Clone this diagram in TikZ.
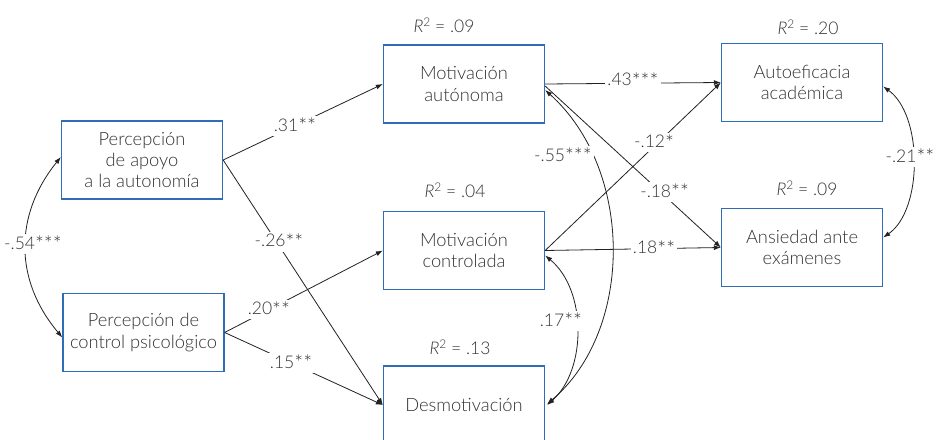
\documentclass[tikz,border=0pt]{standalone}
\usepackage{fontspec}
\setmainfont{Lato Light}[ItalicFont={Lato Light Italic}]
\usetikzlibrary{arrows.meta}
\definecolor{boxblue}{HTML}{2F6DB5}
\definecolor{txt}{HTML}{333333}
\definecolor{ln}{HTML}{222222}
\newcommand\sg{{\fontsize{21}{21}\selectfont\raisebox{-0.25ex}{*}}}
\newcommand\rsqtxt[1]{\textit{R}\raisebox{0.7ex}{\fontsize{12}{12}\selectfont 2} = #1}
\begin{document}
\begin{tikzpicture}[x=1pt,y=-1pt,
  box/.style={draw=boxblue,line width=1.3pt,minimum width=161pt,minimum height=78pt,align=center,text=txt,font=\fontsize{18.3}{21.3}\selectfont,inner sep=0pt},
  arr/.style={draw=ln,line width=0.8pt,-{Latex[length=7pt,width=5pt]}},
  darr/.style={draw=ln,line width=0.8pt,{Latex[length=7pt,width=5pt]}-{Latex[length=7pt,width=5pt]}},
  lab/.style={fill=white,text=txt,font=\fontsize{17.5}{19}\selectfont,inner sep=2pt},
  rsq/.style={text=txt,font=\fontsize{17.5}{19}\selectfont,inner sep=0pt}]
\useasboundingbox (0,0) rectangle (939,439);
\clip (0,0) rectangle (939,439);
\fill[white] (0,0) rectangle (939,439);
% boxes
\node[box] (apoyo) at (142,160) {Percepción\\de apoyo\\a la autonomía};
\node[box] (control) at (143.5,332.5) {Percepción de\\control psicológico};
\node[box] (auto) at (464,84) {Motivación\\autónoma};
\node[box] (contr) at (464,250.5) {Motivación\\controlada};
\node[box] (desm) at (464,405) {Desmotivación};
\node[box] (autoef) at (802,82.5) {Autoeficacia\\académica};
\node[box] (ansi) at (802,247.5) {Ansiedad ante\\exámenes};
% R2 labels
\node[rsq] (r1) at (444,25) {\rsqtxt{.09}};
\node[rsq] (r2) at (455,190) {\rsqtxt{.04}};
\node[rsq] (r3) at (460,347) {\rsqtxt{.13}};
\node[rsq] (r4) at (808,27) {\rsqtxt{.20}};
\node[rsq] (r5) at (807,188) {\rsqtxt{.09}};
% paths
\draw[arr] (apoyo.east) -- node[lab,pos=0.45] (l31) {.31\sg\sg} (auto.west);
\draw[arr] (apoyo.east) -- node[lab,pos=0.35,yshift=4pt] (l26) {-.26\sg\sg} (desm.west);
\draw[arr] (control.east) -- node[lab,pos=0.28] (l20) {.20\sg\sg} (contr.west);
\draw[arr] (control.east) -- node[lab,pos=0.42] (l15) {.15\sg\sg} (desm.west);
\draw[arr] (auto.east) -- node[lab,pos=0.5,yshift=3pt] (l43) {.43\sg\sg\sg} (autoef.west);
\draw[arr] ([yshift=-2pt]auto.east) -- node[lab,pos=0.68,yshift=4pt] (l18a) {-.18\sg\sg} (ansi.west);
\draw[arr] (contr.east) -- node[lab,pos=0.62,yshift=4pt] (l12) {-.12\sg} (autoef.west);
\draw[arr] (contr.east) -- node[lab,pos=0.62] (l18b) {.18\sg\sg} (ansi.west);
% curved correlations
\draw[darr] ([yshift=3pt]apoyo.west) .. controls (14,215) and (14,280) .. ([yshift=-5pt]control.west);
\node[lab] (l54) at (33,244) {-.54\sg\sg\sg};
\draw[darr] ([yshift=-4pt]autoef.east) .. controls (923,115) and (923,210) .. ([yshift=10pt]ansi.east);
\node[lab] (l21) at (910,157) {-.21\sg\sg};
\draw[darr] ([yshift=-6pt]auto.east) .. controls (634,170) and (634,330) .. ([xshift=2pt,yshift=1pt]desm.east);
\node[lab] (l55) at (563,156) {-.55\sg\sg\sg};
\draw[darr] ([yshift=-5pt]contr.east) .. controls (587,290) and (587,370) .. ([xshift=2pt]desm.east);
\node[lab] (l17) at (561,321) {.17\sg\sg};
\end{tikzpicture}
\end{document}
